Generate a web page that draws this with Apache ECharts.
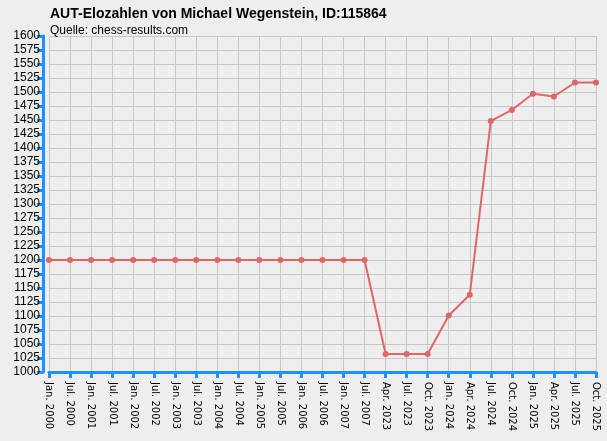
<!DOCTYPE html><html><head><meta charset="utf-8"><script src="https://cdn.jsdelivr.net/npm/echarts@6/dist/echarts.min.js"></script></head><body style="margin:0;background:#eeeeee"><div id="c" style="width:607px;height:441px"></div><script>
const categories=["Jan. 2000","Jul. 2000","Jan. 2001","Jul. 2001","Jan. 2002","Jul. 2002","Jan. 2003","Jul. 2003","Jan. 2004","Jul. 2004","Jan. 2005","Jul. 2005","Jan. 2006","Jul. 2006","Jan. 2007","Jul. 2007","Apr. 2023","Jul. 2023","Oct. 2023","Jan. 2024","Apr. 2024","Jul. 2024","Oct. 2024","Jan. 2025","Apr. 2025","Jul. 2025","Oct. 2025"];
const elo=[1200,1200,1200,1200,1200,1200,1200,1200,1200,1200,1200,1200,1200,1200,1200,1200,1032,1032,1032,1101,1138,1448,1468,1497,1492,1517,1517];
const c=echarts.init(document.getElementById('c'));
c.setOption({backgroundColor:'#eeeeee',animation:false,
title:[{text:'AUT-Elozahlen von Michael Wegenstein, ID:115864',left:45,top:2,textStyle:{fontSize:14,fontWeight:'bold',color:'#000',fontFamily:'Liberation Sans'}},
{text:'Quelle: chess-results.com',left:45,top:20,textStyle:{fontSize:12,fontWeight:'normal',color:'#000',fontFamily:'Liberation Sans'}}],
grid:{left:49,right:11,top:36,bottom:69},
xAxis:{type:'category',data:categories,boundaryGap:false,axisLine:{lineStyle:{color:'#1e90ff',width:3}},axisTick:{lineStyle:{color:'#1e90ff',width:3},length:6},
axisLabel:{rotate:-90,interval:0,fontSize:10,color:'#000',fontFamily:'DejaVu Sans',margin:10},splitLine:{show:true,lineStyle:{color:'#c8c8c8'}}},
yAxis:{type:'value',min:1000,max:1600,interval:25,offset:6,axisLine:{show:true,lineStyle:{color:'#1e90ff',width:3}},axisTick:{show:true,lineStyle:{color:'#1e90ff',width:3},length:6},
axisLabel:{fontSize:12,color:'#000',fontFamily:'Liberation Sans',margin:3,formatter:v=>String(v)},splitLine:{lineStyle:{color:'#c8c8c8'}}},
series:[{type:'line',data:elo,symbol:'circle',symbolSize:6,lineStyle:{color:'#e06666',width:2},itemStyle:{color:'#e06666'}}]});
</script></body></html>
